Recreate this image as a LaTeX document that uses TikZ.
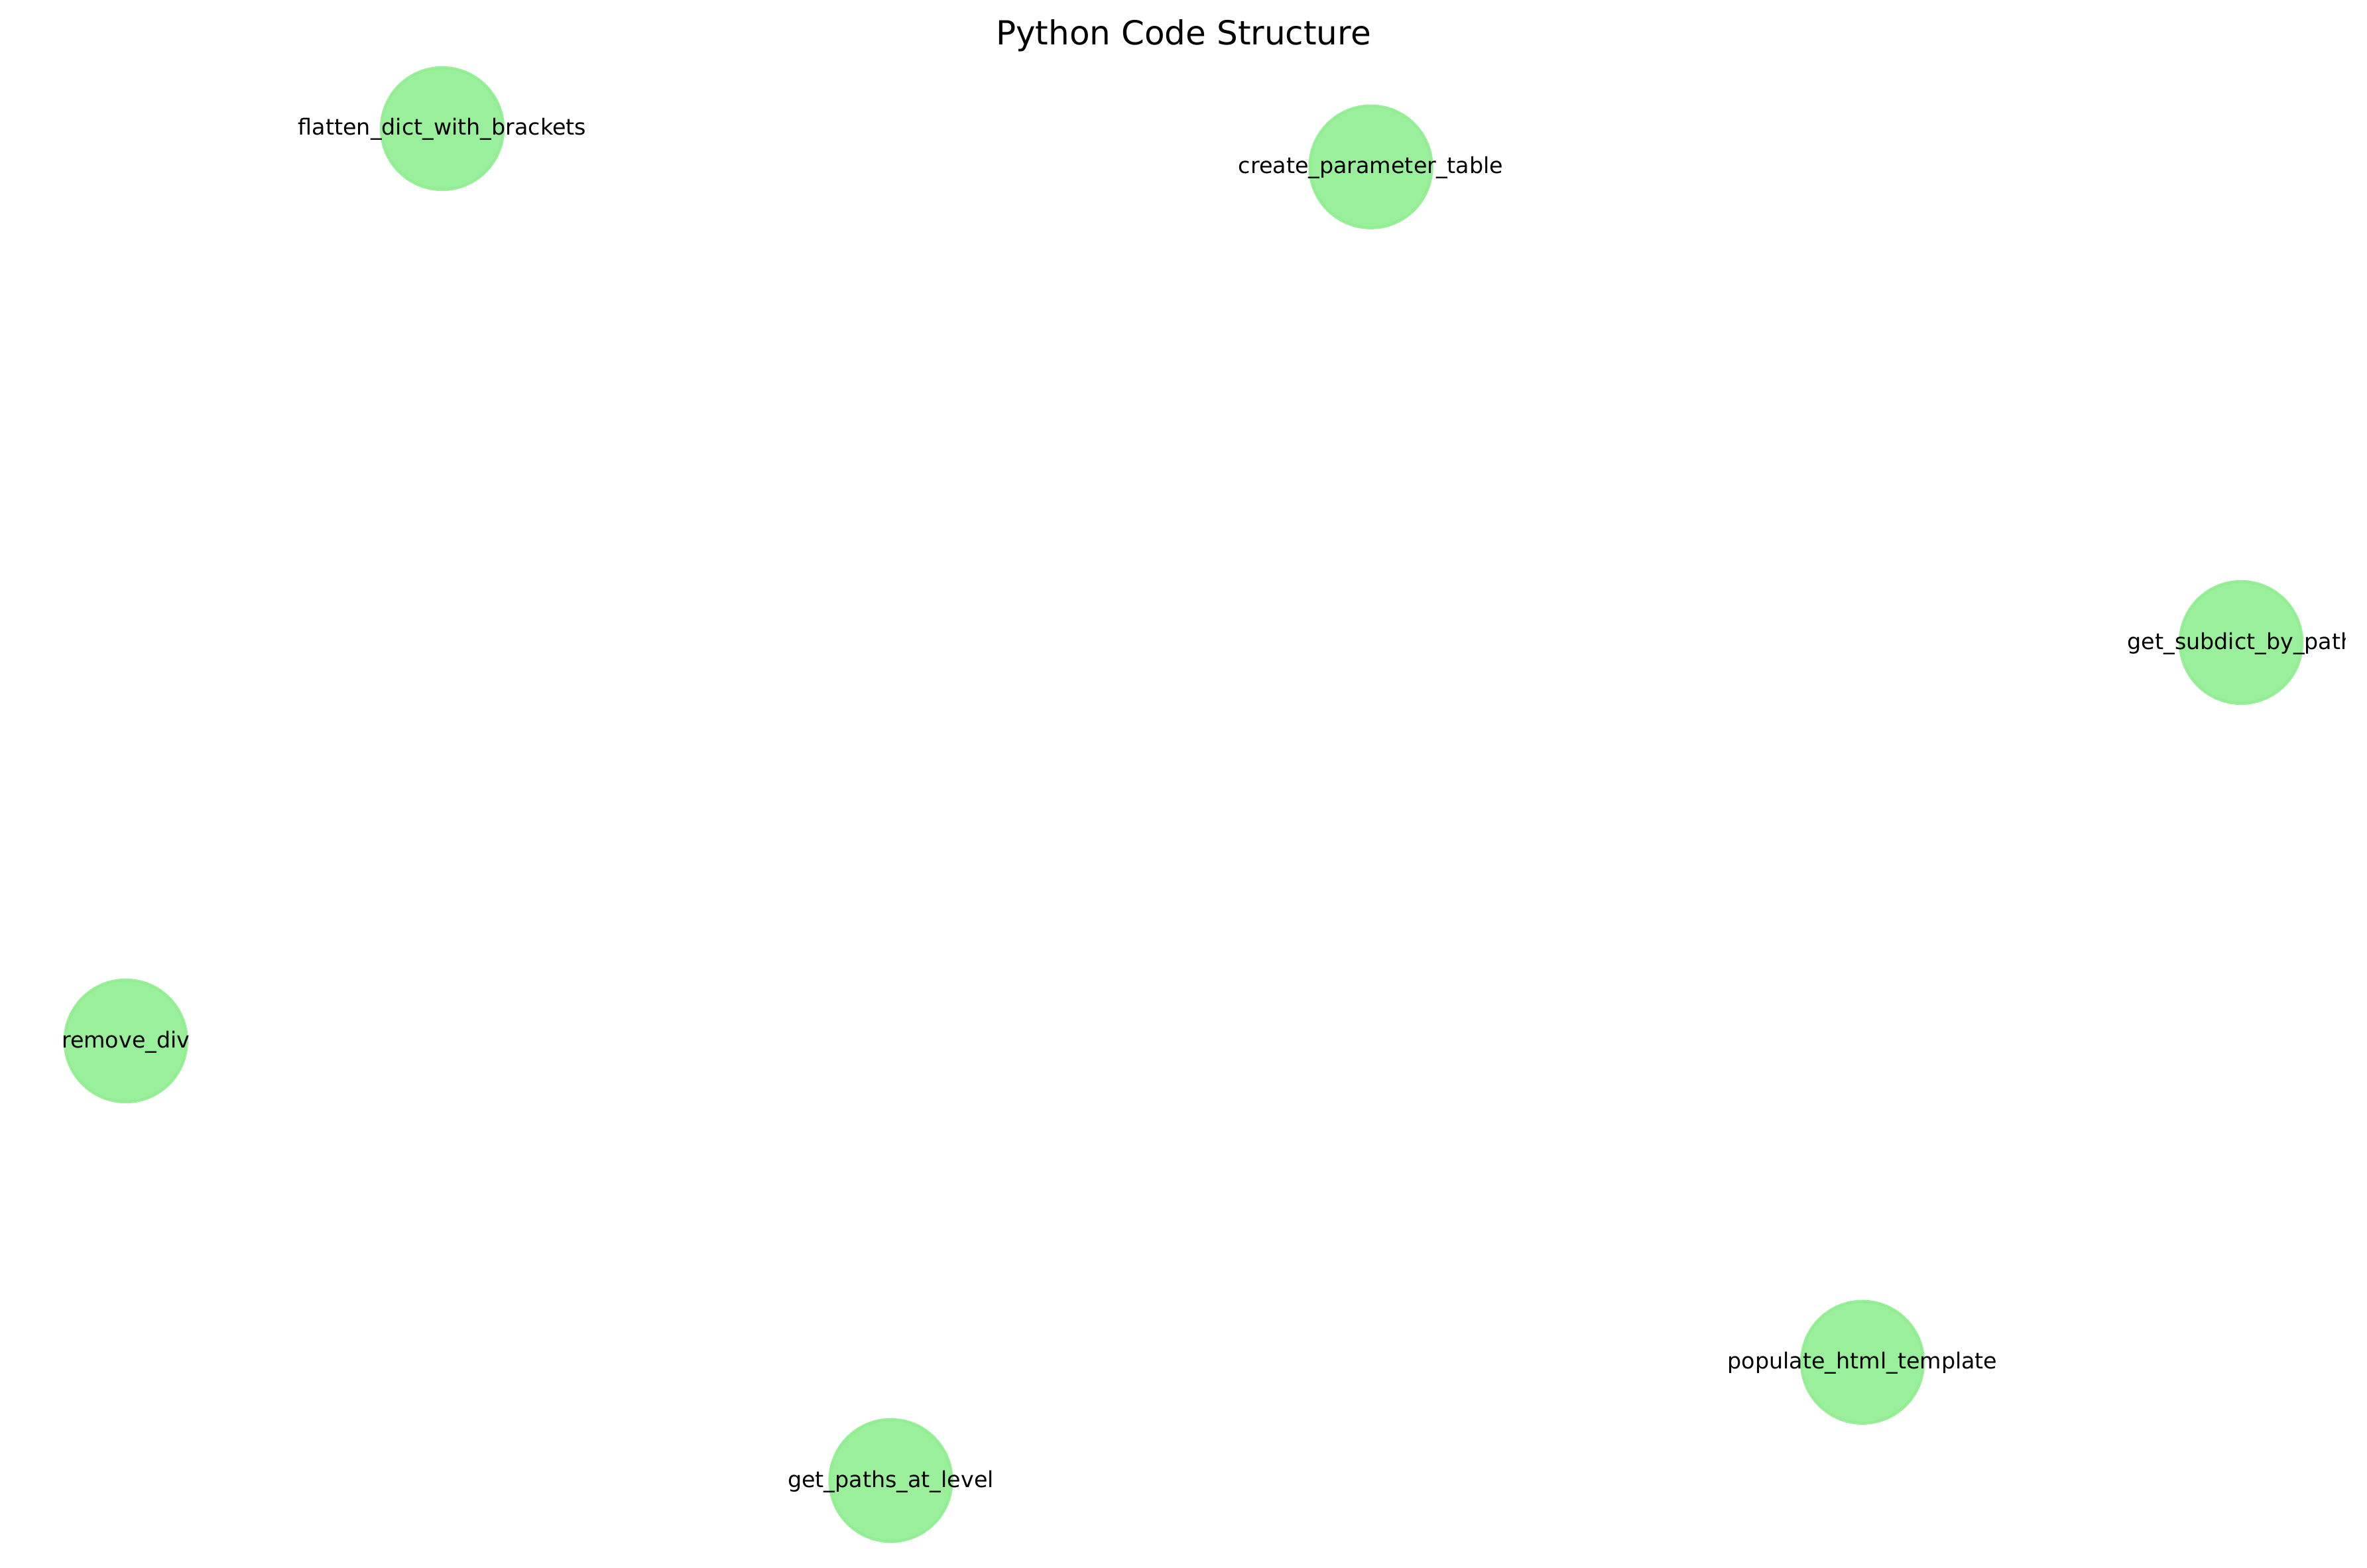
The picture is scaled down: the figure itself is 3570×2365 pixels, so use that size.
\documentclass[tikz,border=0pt]{standalone}
\usepackage{fontspec}
\setmainfont{DejaVu Sans}
\definecolor{lgreen}{RGB}{144,238,144}
\begin{document}
\begin{tikzpicture}[x=0.24pt,y=-0.24pt,
  fnode/.style={circle,fill=lgreen,draw=lgreen,line width=1pt,fill opacity=0.9,draw opacity=0.9,inner sep=0pt,minimum size=44.2pt},
  flabel/.style={anchor=base,inner sep=0pt,font=\fontsize{8}{9.6}\selectfont,text=black},
  ftitle/.style={anchor=base,inner sep=0pt,font=\fontsize{12}{14.4}\selectfont,text=black}]
\useasboundingbox (0,0) rectangle (3570,2365);
\fill[white] (0,0) rectangle (3570,2365);
\node[ftitle] (title) at (1785,68) {Python Code Structure};
\node[fnode] (flatten) at (667,194) {};
\node[fnode] (create) at (2067.5,251.7) {};
\node[fnode] (subdict) at (3380,969) {};
\node[fnode] (remove) at (189.7,1570) {};
\node[fnode] (paths) at (1343.5,2233) {};
\node[fnode] (populate) at (2809,2054.7) {};
\node[flabel] (flattenl) at (667,204) {flatten\_dict\_with\_brackets};
\node[flabel] (createl) at (2067.5,261.7) {create\_parameter\_table};
\begin{scope}
\clip (0,0) rectangle (3537,2365);
\node[flabel] (subdictl) at (3380,979) {get\_subdict\_by\_path};
\end{scope}
\node[flabel] (removel) at (189.7,1580) {remove\_div};
\node[flabel] (pathsl) at (1343.5,2243) {get\_paths\_at\_level};
\node[flabel] (populatel) at (2809,2064.7) {populate\_html\_template};
\end{tikzpicture}
\end{document}
